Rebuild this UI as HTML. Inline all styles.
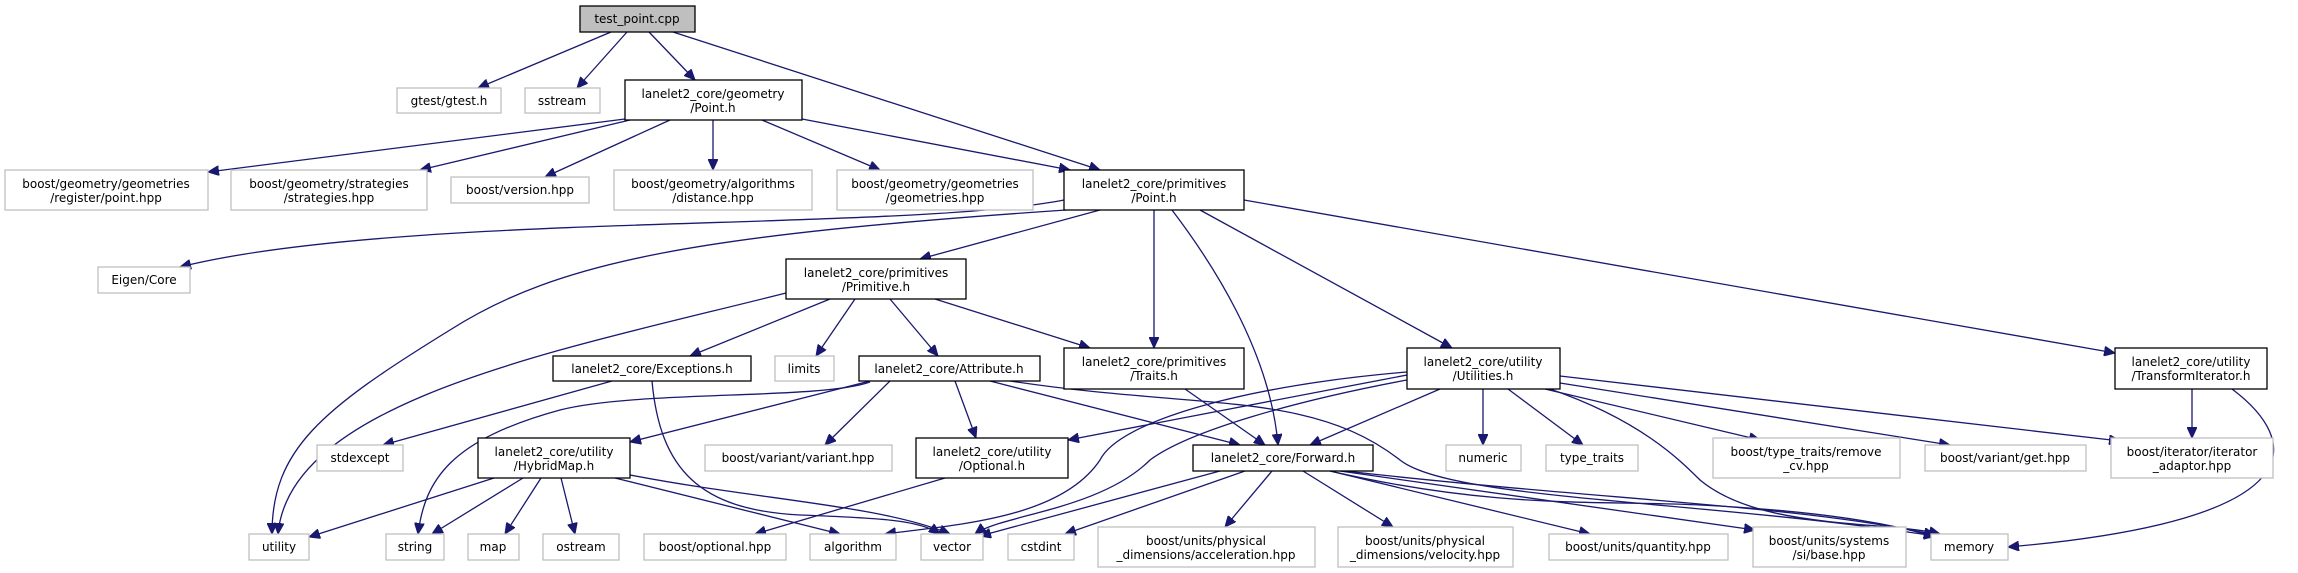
<!DOCTYPE html>
<html><head><meta charset="utf-8"><style>
html,body{margin:0;padding:0;background:#fff;}
svg{display:block}
text{font-family:"DejaVu Sans","Liberation Sans",sans-serif;font-size:12px;fill:#000;text-anchor:middle}
.g{fill:#fff;stroke:#bfbfbf;stroke-width:1.3}
.b{fill:#fff;stroke:#000;stroke-width:1.3}
path{fill:none;stroke:#191970;stroke-width:1.3}
</style></head><body>
<svg width="2298" height="573" viewBox="0 0 2298 573" xmlns="http://www.w3.org/2000/svg">
<defs><marker id="a" markerWidth="12" markerHeight="10" refX="11" refY="5" orient="auto" markerUnits="userSpaceOnUse"><path d="M0,0 L11,5 L0,10 Z" style="fill:#191970;stroke:#191970;stroke-width:1"/></marker></defs>
<g marker-end="url(#a)">
<path d="M611,32 L478,88"/>
<path d="M627,32 L577,88"/>
<path d="M649,32 L695,80"/>
<path d="M673,32 L1100,170"/>
<path d="M625,119 L208,172"/>
<path d="M630,120 L420,170"/>
<path d="M670,120 L545,177"/>
<path d="M713,120 L713,170"/>
<path d="M762,120 L880,170"/>
<path d="M802,119 L1070,170"/>
<path d="M1064,200 C 900,232 400,212 180,267"/>
<path d="M1066,210 C 700,235 560,260 450,330 C 320,410 272,450 272,534"/>
<path d="M1100,210 L920,259"/>
<path d="M1154,210 L1154,348"/>
<path d="M1172,210 C 1210,260 1270,350 1278,445"/>
<path d="M1200,210 L1452,348"/>
<path d="M1244,200 L2115,353"/>
<path d="M786,293 C 560,350 290,400 278,534"/>
<path d="M830,299 L690,356"/>
<path d="M855,299 L816,356"/>
<path d="M890,299 L938,356"/>
<path d="M935,299 L1090,348"/>
<path d="M612,381 L383,445"/>
<path d="M652,381 C 660,470 700,510 800,515 C 880,518 920,520 940,534"/>
<path d="M870,381 L630,442"/>
<path d="M870,382 C 820,400 640,390 560,410 C 450,440 425,480 418,534"/>
<path d="M890,381 L825,445"/>
<path d="M955,381 L976,438"/>
<path d="M990,381 L1240,445"/>
<path d="M1010,381 C 1200,410 1310,390 1400,460 C 1450,500 1700,500 1935,536"/>
<path d="M494,478 L309,537"/>
<path d="M523,478 L432,534"/>
<path d="M541,478 L505,534"/>
<path d="M561,478 L575,534"/>
<path d="M615,478 L840,534"/>
<path d="M630,475 C 760,500 880,505 950,534"/>
<path d="M945,478 L755,534"/>
<path d="M1185,389 L1265,445"/>
<path d="M1407,375 L1068,440"/>
<path d="M1407,372 C 1250,385 1120,420 1100,460 C 1060,520 950,525 885,534"/>
<path d="M1407,380 C 1300,400 1190,430 1150,460 C 1100,510 1000,515 975,534"/>
<path d="M1440,389 L1310,445"/>
<path d="M1483,389 L1483,445"/>
<path d="M1508,389 L1583,445"/>
<path d="M1545,389 L1760,440"/>
<path d="M1560,383 L1950,445"/>
<path d="M1560,376 L2120,441"/>
<path d="M1550,389 C 1640,420 1680,460 1700,480 C 1760,530 1880,520 1940,534"/>
<path d="M1220,471 L980,536"/>
<path d="M1245,471 L1065,534"/>
<path d="M1272,471 L1225,527"/>
<path d="M1303,471 L1393,527"/>
<path d="M1330,471 L1590,534"/>
<path d="M1340,471 L1755,530"/>
<path d="M1345,471 C 1600,500 1800,505 1935,535"/>
<path d="M1330,471 C 1500,510 1600,500 1700,505 C 1800,510 1880,520 1935,537"/>
<path d="M2192,389 L2192,438"/>
<path d="M2232,389 C 2300,440 2320,520 2008,547"/>
</g>
<!-- nodes -->
<rect x="580" y="6" width="115" height="26" style="fill:#bfbfbf;stroke:#000;stroke-width:1.3"/><text x="637" y="23">test_point.cpp</text>
<rect class="g" x="397" y="88" width="104" height="25"/><text x="449" y="105">gtest/gtest.h</text>
<rect class="g" x="525" y="88" width="75" height="25"/><text x="562" y="105">sstream</text>
<rect class="b" x="625" y="80" width="177" height="40"/><text x="713" y="98">lanelet2_core/geometry</text><text x="713" y="112">/Point.h</text>
<rect class="g" x="5" y="170" width="203" height="40"/><text x="106" y="188">boost/geometry/geometries</text><text x="106" y="202">/register/point.hpp</text>
<rect class="g" x="231" y="170" width="196" height="40"/><text x="329" y="188">boost/geometry/strategies</text><text x="329" y="202">/strategies.hpp</text>
<rect class="g" x="451" y="177" width="138" height="26"/><text x="520" y="194">boost/version.hpp</text>
<rect class="g" x="614" y="170" width="198" height="40"/><text x="713" y="188">boost/geometry/algorithms</text><text x="713" y="202">/distance.hpp</text>
<rect class="g" x="837" y="170" width="196" height="40"/><text x="935" y="188">boost/geometry/geometries</text><text x="935" y="202">/geometries.hpp</text>
<rect class="b" x="1064" y="170" width="180" height="40"/><text x="1154" y="188">lanelet2_core/primitives</text><text x="1154" y="202">/Point.h</text>
<rect class="g" x="98" y="267" width="92" height="26"/><text x="144" y="284">Eigen/Core</text>
<rect class="b" x="786" y="259" width="180" height="40"/><text x="876" y="277">lanelet2_core/primitives</text><text x="876" y="291">/Primitive.h</text>
<rect class="b" x="553" y="356" width="198" height="25"/><text x="652" y="373">lanelet2_core/Exceptions.h</text>
<rect class="g" x="775" y="356" width="59" height="25"/><text x="804" y="373">limits</text>
<rect class="b" x="859" y="356" width="181" height="25"/><text x="949" y="373">lanelet2_core/Attribute.h</text>
<rect class="b" x="1064" y="348" width="180" height="41"/><text x="1154" y="366">lanelet2_core/primitives</text><text x="1154" y="380">/Traits.h</text>
<rect class="b" x="1407" y="348" width="153" height="41"/><text x="1483" y="366">lanelet2_core/utility</text><text x="1483" y="380">/Utilities.h</text>
<rect class="b" x="2115" y="348" width="152" height="41"/><text x="2191" y="366">lanelet2_core/utility</text><text x="2191" y="380">/TransformIterator.h</text>
<rect class="g" x="317" y="445" width="86" height="26"/><text x="360" y="462">stdexcept</text>
<rect class="b" x="478" y="438" width="152" height="40"/><text x="554" y="456">lanelet2_core/utility</text><text x="554" y="470">/HybridMap.h</text>
<rect class="g" x="705" y="445" width="187" height="26"/><text x="798" y="462">boost/variant/variant.hpp</text>
<rect class="b" x="916" y="438" width="152" height="40"/><text x="992" y="456">lanelet2_core/utility</text><text x="992" y="470">/Optional.h</text>
<rect class="b" x="1193" y="445" width="180" height="26"/><text x="1283" y="462">lanelet2_core/Forward.h</text>
<rect class="g" x="1446" y="445" width="75" height="26"/><text x="1483" y="462">numeric</text>
<rect class="g" x="1546" y="445" width="92" height="26"/><text x="1592" y="462">type_traits</text>
<rect class="g" x="1713" y="438" width="187" height="40"/><text x="1806" y="456">boost/type_traits/remove</text><text x="1806" y="470">_cv.hpp</text>
<rect class="g" x="1925" y="445" width="161" height="26"/><text x="2005" y="462">boost/variant/get.hpp</text>
<rect class="g" x="2111" y="438" width="162" height="40"/><text x="2192" y="456">boost/iterator/iterator</text><text x="2192" y="470">_adaptor.hpp</text>
<rect class="g" x="249" y="534" width="60" height="26"/><text x="279" y="551">utility</text>
<rect class="g" x="386" y="534" width="58" height="26"/><text x="415" y="551">string</text>
<rect class="g" x="468" y="534" width="51" height="26"/><text x="493" y="551">map</text>
<rect class="g" x="543" y="534" width="76" height="26"/><text x="581" y="551">ostream</text>
<rect class="g" x="644" y="534" width="142" height="26"/><text x="715" y="551">boost/optional.hpp</text>
<rect class="g" x="810" y="534" width="86" height="26"/><text x="853" y="551">algorithm</text>
<rect class="g" x="921" y="534" width="62" height="26"/><text x="952" y="551">vector</text>
<rect class="g" x="1008" y="534" width="66" height="26"/><text x="1041" y="551">cstdint</text>
<rect class="g" x="1098" y="527" width="217" height="40"/><text x="1206" y="545">boost/units/physical</text><text x="1206" y="559">_dimensions/acceleration.hpp</text>
<rect class="g" x="1338" y="527" width="175" height="40"/><text x="1425" y="545">boost/units/physical</text><text x="1425" y="559">_dimensions/velocity.hpp</text>
<rect class="g" x="1549" y="534" width="179" height="26"/><text x="1638" y="551">boost/units/quantity.hpp</text>
<rect class="g" x="1753" y="527" width="153" height="40"/><text x="1829" y="545">boost/units/systems</text><text x="1829" y="559">/si/base.hpp</text>
<rect class="g" x="1931" y="534" width="77" height="26"/><text x="1969" y="551">memory</text>
</svg>
</body></html>
